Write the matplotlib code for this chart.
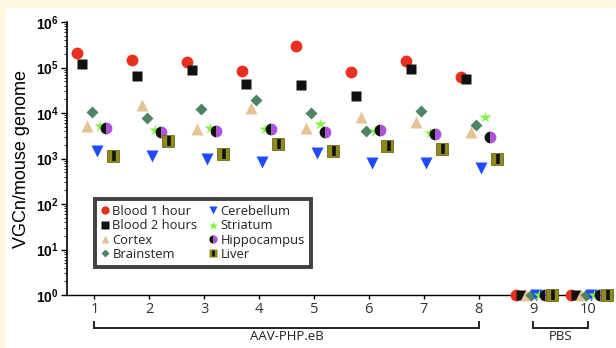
import matplotlib
matplotlib.use("Agg")
import matplotlib.pyplot as plt
import matplotlib.transforms as mtransforms
from matplotlib.lines import Line2D
from matplotlib.legend_handler import HandlerTuple
from matplotlib.patches import Rectangle
import numpy as np

plt.rcParams['mathtext.fontset'] = 'custom'
plt.rcParams['mathtext.bf'] = 'Liberation Sans:bold'
plt.rcParams['mathtext.rm'] = 'Liberation Sans'

# ---------------- data ----------------
groups = [1, 2, 3, 4, 5, 6, 7, 8, 9, 10]
blood_1h = [2.1e5, 1.45e5, 1.32e5, 8.4e4, 2.9e5, 7.8e4, 1.39e5, 6.1e4, 1, 1]
blood_2h = [1.17e5, 6.4e4, 8.7e4, 4.4e4, 4.1e4, 2.4e4, 9.4e4, 5.5e4, 1, 1]
cortex = [5.2e3, 1.47e4, 4.5e3, 1.29e4, 4.7e3, 8.3e3, 6.3e3, 3.8e3, 1, 1]
brainstem = [1.05e4, 7.6e3, 1.23e4, 1.9e4, 1.0e4, 4.1e3, 1.1e4, 5.4e3, 1, 1]
cerebellum = [1.45e3, 1.13e3, 980, 850, 1.34e3, 810, 810, 610, 1, 1]
striatum = [5.3e3, 4.2e3, 4.7e3, 4.5e3, 5.7e3, 4.0e3, 3.6e3, 8.0e3, 1, 1]
hippocampus = [4.8e3, 3.8e3, 4.0e3, 4.5e3, 3.8e3, 4.2e3, 3.4e3, 3.0e3, 1, 1]
liver = [1.15e3, 2.4e3, 1.25e3, 2.1e3, 1.45e3, 1.9e3, 1.65e3, 960, 1, 1]

series_labels = ["Blood 1 hour", "Blood 2 hours", "Cortex", "Brainstem",
                 "Cerebellum", "Striatum", "Hippocampus", "Liver"]
ytick_exponents = [0, 1, 2, 3, 4, 5, 6]
bracket_labels = ["AAV-PHP.eB", "PBS"]
bracket_spans = [(1, 8), (9, 10)]

# ---------------- figure ----------------
W, H = 616, 348
fig = plt.figure(figsize=(W / 100, H / 100), dpi=100, facecolor='#FDF6E1')
fig.patches.append(Rectangle((6 / W, 0), 1 - 6 / W, 1 - 8 / H, transform=fig.transFigure,
                             facecolor='white', edgecolor='none', zorder=-10))
ax = fig.add_axes([67 / W, 1 - 295 / H, (613 - 67) / W, (295 - 22) / H])
ax.set_zorder(5)
ax.set_facecolor('white')

x = np.array(groups, dtype=float)

styles = [
    dict(marker='o', color='#E8301C', ms=8.5),
    dict(marker='s', color='#111111', ms=7.5),
    dict(marker='^', color='#E8C294', ms=8.5),
    dict(marker='D', color='#4C8466', ms=6.3),
    dict(marker='v', color='#1E4BFF', ms=8.5),
    dict(marker='*', color='#80F53C', ms=9),
    None,
    None,
]
offsets = [-0.32, -0.23, -0.14, -0.05, 0.05, 0.11, 0.21, 0.34]
data = [blood_1h, blood_2h, cortex, brainstem, cerebellum, striatum, hippocampus, liver]

handles = []
for i, (vals, off) in enumerate(zip(data, offsets)):
    xs = x + off
    if i < 6:
        st = styles[i]
        ax.plot(xs, vals, ls='none', marker=st['marker'], ms=st['ms'],
                mfc=st['color'], mec='none', clip_on=False, zorder=3 + i)
        handles.append(Line2D([], [], ls='none', marker=st['marker'], ms=st['ms'] * 0.7,
                              mfc=st['color'], mec='none'))
    elif i == 6:
        ax.plot(xs, vals, ls='none', marker='o', ms=8.5, fillstyle='left',
                mfc='#111111', mfcalt='#B14FE3', mec='none', clip_on=False, zorder=10)
        handles.append(Line2D([], [], ls='none', marker='o', ms=6, fillstyle='left',
                              mfc='#111111', mfcalt='#B14FE3', mec='none'))
    else:
        ax.plot(xs, vals, ls='none', marker='s', ms=8.5, mfc='#8E8A1C',
                mec='#6F6C14', mew=0.6, clip_on=False, zorder=11)
        ax.plot(xs + 0.02, vals, ls='none', marker='|', ms=6.5, mec='#111111',
                mew=2.6, clip_on=False, zorder=12)
        h1 = Line2D([], [], ls='none', marker='s', ms=6, mfc='#8E8A1C', mec='none')
        h2 = Line2D([], [], ls='none', marker='|', ms=5, mec='#111111', mew=1.9)
        handles.append((h1, h2))

ax.set_yscale('log')
ax.set_ylim(1, 1e6)
ax.set_xlim(0.5, 10.45)

ax.set_yticks([10.0 ** e for e in ytick_exponents])
ax.set_yticklabels([r'$\mathbf{10^{%d}}$' % e for e in ytick_exponents], fontsize=10)
ax.yaxis.set_minor_locator(matplotlib.ticker.LogLocator(base=10, subs=np.arange(2, 10), numticks=20))
ax.yaxis.set_minor_formatter(matplotlib.ticker.NullFormatter())
ax.tick_params(axis='y', which='major', length=4, width=1, direction='out', pad=2)
ax.tick_params(axis='y', which='minor', length=2, width=0.6, direction='out')

ax.set_xticks(groups)
ax.set_xticklabels([str(g) for g in groups], fontsize=10.5, color='#333333', family='Open Sans')
ax.tick_params(axis='x', which='major', length=3, width=1, direction='out', pad=2)
ax.tick_params(axis='x', which='minor', bottom=False)

for s in ['top', 'right']:
    ax.spines[s].set_visible(False)
ax.spines['left'].set_linewidth(1.2)
ax.spines['bottom'].set_linewidth(1.0)

ax.set_ylabel('VGCn/mouse genome', fontsize=13, family='Liberation Sans', labelpad=4)

# brackets
trans = mtransforms.blended_transform_factory(ax.transData, ax.transAxes)
for (a, b), lab in zip(bracket_spans, bracket_labels):
    ax.plot([a, a, b, b], [-0.099, -0.121, -0.121, -0.099], color='#222222', lw=1.4,
            transform=trans, clip_on=False, solid_joinstyle='miter')
    ax.text((a + b) / 2, -0.128, lab, transform=trans, ha='center', va='top',
            fontsize=9.5, family='Open Sans', color='#222222')

leg = ax.legend(handles, series_labels, ncol=2, loc='upper left',
                bbox_to_anchor=(0.04, 0.375), frameon=True, fancybox=False,
                edgecolor='#111111', handlelength=0.6, handletextpad=0.25,
                labelspacing=0.1, columnspacing=0.9, borderpad=0.45,
                handler_map={tuple: HandlerTuple(ndivide=1)},
                prop={'family': 'Open Sans', 'size': 9.4})
leg.get_frame().set_linewidth(2.8)
for t in leg.get_texts():
    t.set_color('#222222')

fig.savefig('out.png', dpi=100, facecolor=fig.get_facecolor())
